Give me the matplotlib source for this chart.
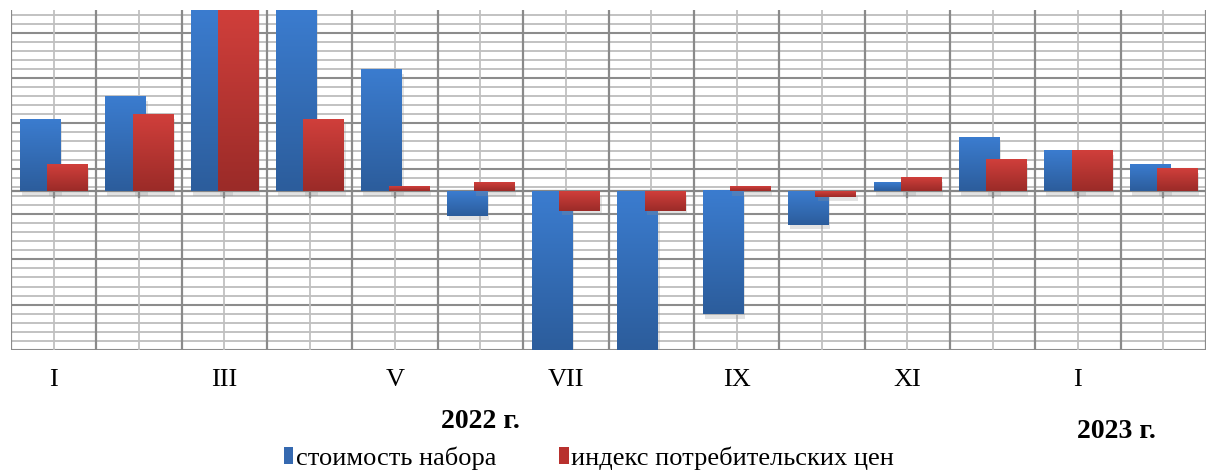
import numpy as np
import matplotlib
matplotlib.use('Agg')
import matplotlib.pyplot as plt
import matplotlib.patheffects as pe
from matplotlib.colors import LinearSegmentedColormap
from matplotlib.patches import Patch

plt.rcParams['font.family'] = ['Liberation Serif', 'DejaVu Serif']

# months I-2022 .. II-2023, values in minor-grid units (bars beyond the axis are clipped)
months = ['I', 'II', 'III', 'IV', 'V', 'VI', 'VII', 'VIII', 'IX', 'X', 'XI', 'XII', 'I', 'II']
cost = [7.9, 10.44, 24.0, 24.0, 13.42, -2.68, -19.0, -19.0, -13.57, -3.68, 0.96, 5.92, 4.49, 2.94]
cpi = [2.94, 8.46, 24.0, 7.9, 0.51, 0.96, -2.13, -2.13, 0.51, -0.66, 1.51, 3.45, 4.49, 2.50]
shown_labels = ['I', '', 'III', '', 'V', '', 'VII', '', 'IX', '', 'XI', '', 'I', '']

YMIN, YMAX = -17.5, 20.0

blue_cm = LinearSegmentedColormap.from_list('b', ['#2c5d9c', '#3b7ccf'])
red_cm = LinearSegmentedColormap.from_list('r', ['#9b2b28', '#d03f3b'])
shadow = [pe.SimplePatchShadow(offset=(1.5, -3), shadow_rgbFace='#909090', alpha=0.25), pe.Normal()]

fig = plt.figure(figsize=(12.08, 4.72), dpi=100)
ax = fig.add_axes([11 / 1208, 1 - 350 / 472, 1195 / 1208, 340 / 472])
n = len(months)
x = np.arange(n)

# grid
for k, yv in enumerate(np.arange(YMIN, YMAX + 0.01, 1.0)):
    major = k % 5 == 0
    ax.axhline(yv, color='#8c8c8c' if major else '#bdbdbd', lw=1.5 if major else 1.3, zorder=0)
for b in np.arange(-0.5, n, 1.0):
    ax.axvline(b, color='#8a8a8a', lw=1.6, zorder=0)
for c in x:
    ax.axvline(c, color='#c0c0c0', lw=1.3, zorder=0)

w = 0.47
grad = np.linspace(0, 1, 64).reshape(-1, 1)


def draw(vals, offset, cmap, z):
    bars = ax.bar(x + offset, vals, width=w, color=cmap(0.5), zorder=z, linewidth=0)
    for p in bars:
        p.set_path_effects(shadow)
        y0, y1 = sorted([p.get_y(), p.get_y() + p.get_height()])
        y0, y1 = max(y0, YMIN), min(y1, YMAX)
        ax.imshow(grad, cmap=cmap, origin='lower', aspect='auto', interpolation='bilinear',
                  extent=(p.get_x(), p.get_x() + p.get_width(), y0, y1), zorder=z + 0.1)


draw(cost, -0.16, blue_cm, 3)
draw(cpi, 0.16, red_cm, 4)

# zero axis with ticks
ax.axhline(0, color='#868686', lw=1.6, zorder=2.5)
for c in x:
    ax.plot([c, c], [0, -0.6], color='#868686', lw=1.6, zorder=2.5)

ax.set_xlim(-0.5, n - 0.5)
ax.set_ylim(YMIN, YMAX)
for s in ax.spines.values():
    s.set_visible(False)
ax.set_yticks([])
ax.set_xticks(x)
ax.set_xticklabels(shown_labels, fontsize=19)
ax.tick_params(axis='x', length=0, pad=14)

fig.text(480 / 1208, 1 - 421 / 472, '2022 г.', fontsize=20, fontweight='bold', ha='center', va='center')
fig.text(1116 / 1208, 1 - 432 / 472, '2023 г.', fontsize=20, fontweight='bold', ha='center', va='center')

handles = [Patch(facecolor='#3569b0', label='стоимость набора'),
           Patch(facecolor='#b8312e', label='индекс потребительских цен')]
fig.legend(handles=handles, loc='center', bbox_to_anchor=(589 / 1208, 1 - 458 / 472), ncol=2,
           frameon=False, fontsize=19, handlelength=0.35, handleheight=0.6, handletextpad=0.1,
           columnspacing=2.4, borderpad=0)

fig.savefig('out.png', dpi=100)
